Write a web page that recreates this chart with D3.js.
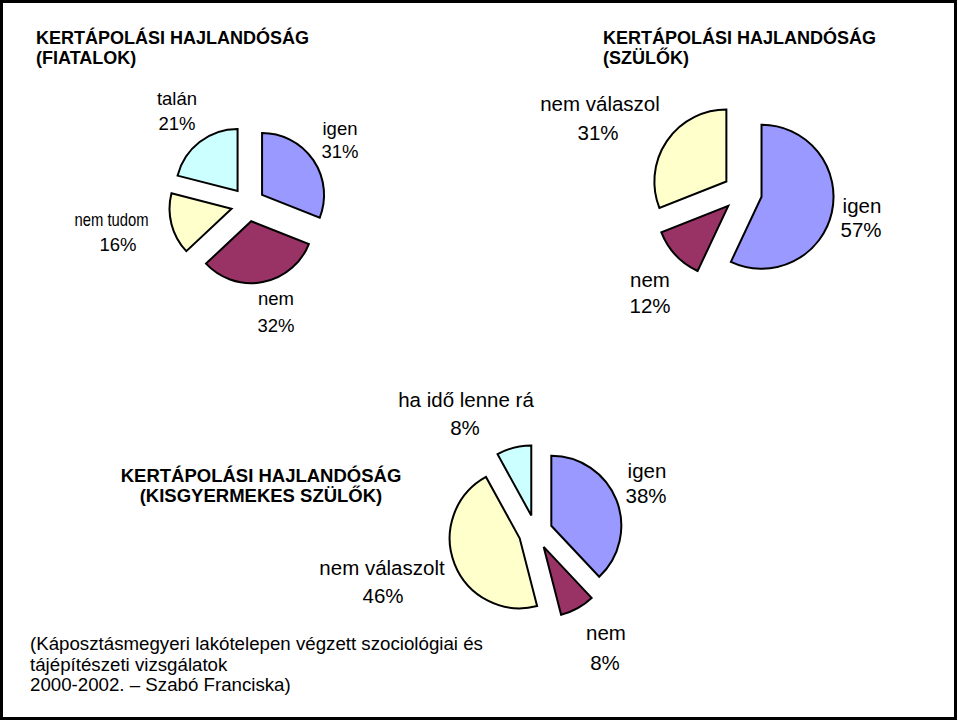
<!DOCTYPE html>
<html>
<head>
<meta charset="utf-8">
<script src="https://cdn.jsdelivr.net/npm/d3@7"></script>
<style>
  html, body { margin: 0; padding: 0; background: #fff; }
  svg { display: block; }
  text { font-family: "Liberation Sans", Arial, sans-serif; fill: #000; }
</style>
</head>
<body>
<svg id="chart" width="958" height="720"></svg>
<script>
// ---- data ----
const youthCategories = ["igen", "nem", "nem tudom", "talán"];
const youthValues = [31, 32, 16, 21];

const parentCategories = ["igen", "nem", "nem válaszol"];
const parentValues = [57, 12, 31];

const smallChildCategories = ["igen", "nem", "nem válaszolt", "ha idő lenne rá"];
const smallChildValues = [38, 8, 46, 8];

const titleLines1 = ["KERTÁPOLÁSI HAJLANDÓSÁG", "(FIATALOK)"];
const titleLines2 = ["KERTÁPOLÁSI HAJLANDÓSÁG", "(SZÜLŐK)"];
const titleLines3 = ["KERTÁPOLÁSI HAJLANDÓSÁG", "(KISGYERMEKES SZÜLŐK)"];
const footnoteLines = [
  "(Káposztásmegyeri lakótelepen végzett szociológiai és",
  "tájépítészeti vizsgálatok",
  "2000-2002. – Szabó Franciska)"
];

// ---- styles / layout ----
const colorMap = {
  "igen": "#9999FF",
  "nem": "#993366",
  "nem tudom": "#FFFFCC",
  "nem válaszol": "#FFFFCC",
  "nem válaszolt": "#FFFFCC",
  "talán": "#CCFFFF",
  "ha idő lenne rá": "#CCFFFF"
};

// label layout: [x line1, baseline line1, baseline line2, x line2, squeezed width of line1 or 0]
const pies = [
  {
    cats: youthCategories, vals: youthValues,
    cx: 248, cy: 204.5, r: 62, explode: 17, fontSize: 18.5,
    labelPos: [[340, 135, 158, 340, 0], [276, 305, 332, 276, 0], [111.5, 226, 251, 118, 74], [177, 105, 130, 177, 0]]
  },
  {
    cats: parentCategories, vals: parentValues,
    cx: 742.5, cy: 192.5, r: 72, explode: 19.5, fontSize: 20.5,
    labelPos: [[862, 213, 237, 861, 0], [650, 287, 313, 650, 0], [600, 111, 140, 598, 0]]
  },
  {
    cats: smallChildCategories, vals: smallChildValues,
    cx: 535.5, cy: 532, r: 70, explode: 17, fontSize: 20.5,
    labelPos: [[647, 478, 503, 646, 0], [606, 640, 670, 605, 0], [382, 575, 603, 383, 0], [466, 407, 435, 465, 0]]
  }
];

const svg = d3.select("#chart");

// frame
svg.append("rect")
  .attr("x", 1.5).attr("y", 1.5)
  .attr("width", 954).attr("height", 717)
  .attr("fill", "#fff").attr("stroke", "#000").attr("stroke-width", 3);

const pieGen = d3.pie().sort(null).startAngle(0).endAngle(2 * Math.PI);

pies.forEach(p => {
  const arcs = pieGen(p.vals);
  const arcGen = d3.arc().innerRadius(0).outerRadius(p.r);
  const g = svg.append("g").attr("transform", `translate(${p.cx},${p.cy})`);
  g.selectAll("path")
    .data(arcs)
    .join("path")
    .attr("transform", d => {
      const mid = (d.startAngle + d.endAngle) / 2;
      return `translate(${Math.sin(mid) * p.explode},${-Math.cos(mid) * p.explode})`;
    })
    .attr("d", arcGen)
    .attr("fill", (d, i) => colorMap[p.cats[i]])
    .attr("stroke", "#000")
    .attr("stroke-width", 2)
    .attr("stroke-linejoin", "miter");

  arcs.forEach((d, i) => {
    const [x1, y1, y2, x2, squeeze] = p.labelPos[i];
    const t1 = svg.append("text")
      .attr("text-anchor", "middle")
      .attr("font-size", p.fontSize)
      .attr("x", x1).attr("y", y1)
      .text(p.cats[i]);
    if (squeeze) t1.attr("textLength", squeeze).attr("lengthAdjust", "spacingAndGlyphs");
    svg.append("text")
      .attr("text-anchor", "middle")
      .attr("font-size", p.fontSize)
      .attr("x", x2).attr("y", y2)
      .text(p.vals[i] + "%");
  });
});

function title(lines, x, y, anchor, size) {
  const t = svg.append("text")
    .attr("font-size", size)
    .attr("font-weight", "bold")
    .attr("text-anchor", anchor);
  lines.forEach((l, i) => t.append("tspan").attr("x", x).attr("y", y + i * 20).text(l));
}
title(titleLines1, 36, 44, "start", 18);
title(titleLines2, 603, 44, "start", 18);
title(titleLines3, 261, 482, "middle", 18.5);

const fn = svg.append("text").attr("font-size", 18.7);
footnoteLines.forEach((l, i) =>
  fn.append("tspan").attr("x", 30).attr("y", 650 + i * 20.7).text(l));
</script>
</body>
</html>
